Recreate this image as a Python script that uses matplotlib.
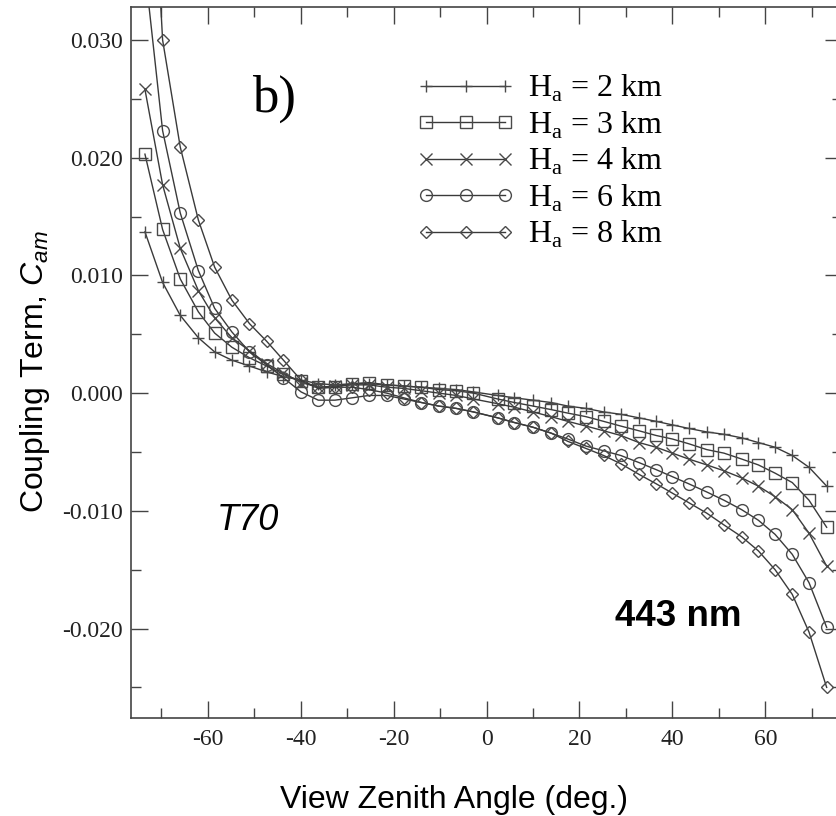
import matplotlib
matplotlib.use('Agg')
import matplotlib.pyplot as plt
from matplotlib.ticker import MultipleLocator, FuncFormatter

plt.rcParams['axes.unicode_minus'] = False
plt.rcParams['mathtext.fontset'] = 'custom'
plt.rcParams['mathtext.rm'] = 'Liberation Serif'
plt.rcParams['mathtext.it'] = 'Liberation Sans:italic'
plt.rcParams['mathtext.bf'] = 'Liberation Serif:bold'

# View zenith angles (deg.)
angles_neg = [-73.5, -69.7, -65.9, -62.0, -58.5, -54.8, -51.0, -47.3, -43.7, -39.9,
              -36.2, -32.6, -28.9, -25.3, -21.5, -17.8, -14.0, -10.3, -6.5, -2.8]
angles_pos = [2.4, 6.0, 10.0, 13.9, 17.5, 21.4, 25.2, 28.9, 32.8, 36.5,
              40.0, 43.5, 47.4, 51.1, 54.9, 58.5, 62.1, 65.8, 69.4, 73.2]
view_angle = angles_neg + angles_pos

cam_2km = [0.0137, 0.0094, 0.0066, 0.0047, 0.0035, 0.0028, 0.0023, 0.0018, 0.0014, 0.0011,
           0.0008, 0.0007, 0.0008, 0.0008, 0.0007, 0.0006, 0.0005, 0.0004, 0.0003, 0.0001,
           -0.0002, -0.0004, -0.0006, -0.0008, -0.0011, -0.0013, -0.0016, -0.0018, -0.0021, -0.0024,
           -0.0027, -0.0030, -0.0033, -0.0035, -0.0038, -0.0042, -0.0046, -0.0053, -0.0063, -0.0079]
cam_3km = [0.0203, 0.0139, 0.0097, 0.0069, 0.0051, 0.0039, 0.0030, 0.0023, 0.0016, 0.0010,
           0.0005, 0.0005, 0.0008, 0.0009, 0.0007, 0.0006, 0.0005, 0.0003, 0.0002, 0.0000,
           -0.0005, -0.0008, -0.0011, -0.0014, -0.0017, -0.0020, -0.0024, -0.0028, -0.0032, -0.0036,
           -0.0039, -0.0043, -0.0048, -0.0051, -0.0056, -0.0061, -0.0068, -0.0076, -0.0091, -0.0114]
cam_4km = [0.0258, 0.0177, 0.0123, 0.0087, 0.0064, 0.0047, 0.0036, 0.0025, 0.0017, 0.0009,
           0.0005, 0.0006, 0.0007, 0.0007, 0.0005, 0.0004, 0.0002, 0.0000, -0.0002, -0.0005,
           -0.0009, -0.0012, -0.0016, -0.0020, -0.0024, -0.0028, -0.0032, -0.0036, -0.0042, -0.0046,
           -0.0051, -0.0056, -0.0061, -0.0066, -0.0072, -0.0079, -0.0088, -0.0099, -0.0119, -0.0147]
cam_6km = [0.0360, 0.0223, 0.0153, 0.0104, 0.0072, 0.0052, 0.0035, 0.0024, 0.0013, 0.0001,
           -0.0006, -0.0006, -0.0004, -0.0002, -0.0002, -0.0005, -0.0008, -0.0011, -0.0013, -0.0016,
           -0.0021, -0.0025, -0.0029, -0.0034, -0.0039, -0.0045, -0.0049, -0.0053, -0.0059, -0.0065,
           -0.0071, -0.0077, -0.0084, -0.0091, -0.0099, -0.0108, -0.0120, -0.0137, -0.0161, -0.0199]
cam_8km = [0.0580, 0.0300, 0.0209, 0.0147, 0.0107, 0.0079, 0.0059, 0.0044, 0.0028, 0.0011,
           0.0004, 0.0005, 0.0005, 0.0003, 0.0000, -0.0004, -0.0008, -0.0011, -0.0013, -0.0016,
           -0.0021, -0.0025, -0.0029, -0.0034, -0.0041, -0.0047, -0.0053, -0.0060, -0.0069, -0.0077,
           -0.0085, -0.0093, -0.0102, -0.0112, -0.0122, -0.0134, -0.0150, -0.0171, -0.0203, -0.0250]

labels = ['H$_{\\mathrm{a}}$ = 2 km', 'H$_{\\mathrm{a}}$ = 3 km', 'H$_{\\mathrm{a}}$ = 4 km',
          'H$_{\\mathrm{a}}$ = 6 km', 'H$_{\\mathrm{a}}$ = 8 km']
series = [cam_2km, cam_3km, cam_4km, cam_6km, cam_8km]
markers = ['+', 's', 'x', 'o', 'D']
msizes = [9, 8.5, 8, 8.5, 6.3]

fig = plt.figure(figsize=(8.36, 8.16), dpi=100)
ax = fig.add_axes([131/836, 1-718/816, 711/836, 711/816])

for vals, mk, lab, ms in zip(series, markers, labels, msizes):
    ax.plot(view_angle, vals, color='#3a3a3a', lw=1.0, marker=mk, ms=ms,
            mfc='none', mec='#4a4a4a', mew=1.0, label=lab)

ax.set_xlim(-76.5, 76.5)
ax.set_ylim(-0.0276, 0.0328)
ax.xaxis.set_major_locator(MultipleLocator(20))
ax.xaxis.set_minor_locator(MultipleLocator(10))
ax.yaxis.set_major_locator(MultipleLocator(0.01))
ax.yaxis.set_minor_locator(MultipleLocator(0.005))
ax.yaxis.set_major_formatter(FuncFormatter(lambda v, p: '%.3f' % (round(v, 4) + 0.0)))
ax.xaxis.set_major_formatter(FuncFormatter(lambda v, p: '%d' % round(v)))
ax.tick_params(which='both', direction='in', top=True, right=True, width=1.0, color='#444444')
ax.tick_params(which='major', length=12, labelsize=17, labelcolor='#222222')
ax.tick_params(axis='y', which='major', pad=6)
ax.tick_params(axis='x', which='major', pad=8)
ax.tick_params(which='minor', length=7)
for lbl in ax.get_xticklabels() + ax.get_yticklabels():
    lbl.set_fontfamily('Liberation Serif')
for sp in ax.spines.values():
    sp.set_linewidth(1.2)
    sp.set_color('#444444')

ax.legend(loc='upper left', bbox_to_anchor=(416/836, 1-73/816), bbox_transform=fig.transFigure,
          frameon=False, numpoints=3, handlelength=3.1, handletextpad=0.4, labelspacing=0.17,
          borderpad=0, borderaxespad=0, prop={'family': 'Liberation Serif', 'size': 23})

fig.text(274/836, 1-99/816, 'b)', family='Liberation Serif', size=38, ha='center', va='center')
fig.text(248/836, 1-521/816, 'T70', family='Liberation Sans', style='italic', size=26,
         ha='center', va='center')
fig.text(678/836, 1-617/816, '443 nm', family='Liberation Sans', weight='bold', size=26.5,
         ha='center', va='center')
fig.text(454/836, 1-808/816, 'View Zenith Angle (deg.)', family='Liberation Sans', size=23,
         ha='center', va='baseline')
fig.text(35/836, 1-372/816, 'Coupling Term, $C_{am}$', family='Liberation Sans', size=23,
         rotation=90, ha='center', va='center')

fig.savefig('out.png', dpi=100)
